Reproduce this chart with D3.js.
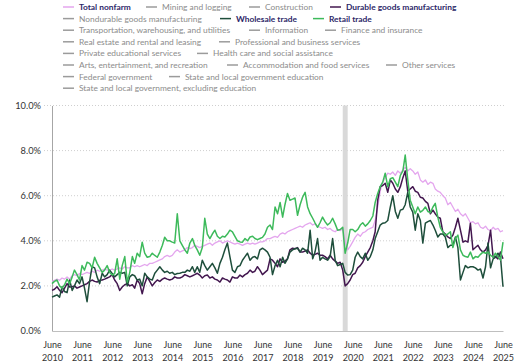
<!DOCTYPE html>
<html>
<head>
<meta charset="utf-8">
<script src="https://cdn.jsdelivr.net/npm/d3@7"></script>
<style>
  body { margin: 0; background: #fff; }
</style>
</head>
<body>
<script>
// Job openings rate by industry, monthly, June 2010 - June 2025 (percent)
const totalNonfarm = [
  2.2, 2.25, 2.3, 2.25, 2.35, 2.3, 2.4, 2.3, 2.45, 2.5, 2.45, 2.55,
  2.5, 2.55, 2.6, 2.55, 2.65, 2.6, 2.7, 2.65, 2.7, 2.75, 2.7, 2.7,
  2.75, 2.7, 2.75, 2.8, 2.75, 2.85, 2.8, 2.8, 2.9, 2.85, 2.9, 2.85,
  2.9, 2.95, 2.9, 3.0, 3.0, 3.05, 3.1, 3.15, 3.2, 3.3, 3.35, 3.3,
  3.35, 3.5, 3.6, 3.5, 3.55, 3.6, 3.7, 3.65, 3.7, 3.8, 3.75, 3.7,
  3.75, 3.8, 3.85, 3.9, 3.8, 3.9, 3.95, 4.0, 3.9, 3.95, 4.0, 3.95,
  3.9, 3.85, 3.9, 3.85, 3.8, 3.85, 3.9, 3.85, 3.9, 3.85, 3.9, 3.95,
  3.95, 4.0, 4.1, 4.1, 4.15, 4.2, 4.15, 4.3, 4.35, 4.3, 4.4, 4.45,
  4.5, 4.55, 4.6, 4.65, 4.6, 4.7, 4.75, 4.8, 4.7, 4.75, 4.65, 4.6,
  4.55, 4.6, 4.5, 4.55, 4.45, 4.4, 4.5, 4.45, 4.55, 4.0, 3.6, 3.75,
  3.95, 4.15, 4.3, 4.2, 4.35, 4.4, 4.5, 4.55, 4.6, 4.9, 5.5, 6.2,
  6.6, 6.8, 7.0, 6.95, 7.05, 6.9, 7.1, 7.0, 7.15, 7.25, 7.1, 7.2,
  7.1, 6.95, 7.05, 6.7, 6.6, 6.7, 6.5, 6.6, 6.55, 6.3, 6.2, 6.15,
  6.0, 5.9, 5.6, 5.7, 5.5, 5.3, 5.4, 5.2, 5.1, 5.2, 5.0, 4.8,
  4.85, 4.75, 4.8, 4.6, 4.55, 4.65, 4.5, 4.45, 4.6, 4.5, 4.55, 4.4,
  4.45
];

const durableGoods = [
  1.8, 1.85, 1.96, 1.8, 1.7, 1.9, 2.1, 1.95, 1.96, 2.0, 1.9, 1.95,
  2.0, 2.05, 2.1, 2.2, 2.26, 2.2, 2.17, 2.25, 2.26, 2.3, 2.35, 2.4,
  2.5, 2.26, 2.1, 1.8, 1.95, 2.05, 2.1, 2.0, 2.05, 1.9, 2.26, 2.1,
  1.65, 2.1, 2.4, 2.2, 2.0, 2.15, 2.26, 2.2, 2.3, 2.35, 2.3, 2.26,
  2.3, 2.4, 2.35, 2.35, 2.4, 2.5, 2.45, 2.4, 2.45, 2.5, 2.56, 2.48,
  2.35, 2.45, 2.48, 2.35, 2.4, 2.3, 2.26, 2.17, 2.35, 2.3, 2.26, 2.17,
  2.4, 2.35, 2.35, 2.48, 2.4, 2.5, 2.56, 2.7, 2.6, 2.65, 2.85, 2.7,
  2.5, 2.6, 2.7, 3.2, 3.14, 3.0, 2.85, 3.2, 3.05, 3.1, 3.2, 3.6,
  3.67, 3.65, 3.7, 3.5, 3.5, 3.55, 3.6, 3.45, 3.36, 3.4, 3.45, 3.36,
  3.36, 3.3, 3.2, 3.36, 3.2, 3.1, 3.0, 3.05, 2.7, 2.0, 2.1, 2.26,
  2.5, 2.56, 2.8, 2.9, 3.05, 3.3, 3.5, 3.7, 4.0, 4.4, 5.8, 6.4,
  6.45, 6.55, 6.15, 6.7, 6.55, 6.3, 6.15, 6.4, 6.8, 7.1, 6.2, 6.3,
  6.4, 6.2, 6.15, 5.93, 5.9, 5.75, 5.66, 5.2, 5.36, 5.2, 5.05, 5.0,
  4.4, 4.3, 4.17, 4.1, 4.25, 4.6, 5.0, 4.47, 3.94, 4.0, 3.94, 4.78,
  3.6, 3.7, 3.8, 3.6, 3.5, 3.6, 3.8, 4.47, 3.27, 3.3, 3.2, 3.5,
  3.2
];

const wholesaleTrade = [
  1.5, 1.55, 1.6, 1.5, 1.96, 1.75, 1.7, 2.26, 1.8, 2.0, 2.26, 2.1,
  2.4, 1.9, 1.3, 2.2, 2.85, 2.8, 2.4, 2.1, 2.56, 2.4, 2.5, 2.7,
  2.55, 2.4, 2.5, 2.6, 2.56, 2.6, 2.0, 2.4, 2.5, 2.45, 2.26, 2.3,
  2.0, 2.56, 2.4, 2.3, 2.26, 2.56, 2.7, 2.85, 2.7, 2.6, 2.65, 2.56,
  2.6, 2.5, 2.55, 2.56, 2.6, 2.6, 2.7, 2.65, 2.85, 2.6, 2.85, 2.6,
  3.14, 2.9, 2.7, 2.85, 3.0, 2.8, 2.56, 3.0, 3.27, 3.6, 3.9, 3.3,
  2.7, 2.6, 2.85, 2.9, 3.14, 3.3, 3.45, 3.14, 3.27, 3.3, 3.2, 3.6,
  3.67, 3.6, 3.5, 3.27, 2.5, 2.9, 3.14, 2.85, 3.27, 3.0, 3.2, 3.5,
  3.6, 3.65, 3.67, 3.5, 3.67, 3.6, 3.45, 4.47, 3.2, 3.5, 4.1, 3.14,
  3.27, 3.2, 3.14, 3.3, 4.1, 3.14, 2.9, 2.95, 3.0, 2.6, 2.48, 2.5,
  2.7, 3.27, 3.5, 3.3, 3.2, 3.45, 3.14, 3.3, 3.6, 4.1, 4.4, 4.7,
  4.78, 4.8, 4.9, 5.5, 6.0, 5.3, 5.0, 5.36, 5.4, 5.6, 6.15, 5.5,
  5.27, 4.47, 5.2, 4.9, 3.9, 4.78, 4.85, 4.9, 4.7, 4.47, 4.17, 4.3,
  4.3, 4.17, 3.7, 3.8, 3.8, 4.17, 3.7, 2.26, 2.6, 2.9, 2.8, 2.85,
  2.85, 2.8, 2.7, 2.75, 2.35, 2.85, 3.9, 2.8, 3.2, 3.27, 3.45, 3.3,
  1.96
];

const retailTrade = [
  2.1, 2.2, 2.26, 2.0, 1.9, 2.05, 2.3, 2.1, 2.4, 2.7, 2.5, 2.26,
  2.9, 2.7, 3.05, 3.0, 2.8, 3.27, 3.0, 2.8, 2.6, 2.7, 2.9, 2.6,
  2.48, 2.55, 3.2, 2.3, 2.9, 3.3, 2.17, 2.6, 3.3, 3.0, 3.45, 3.3,
  3.94, 3.45, 3.27, 3.3, 3.45, 3.35, 3.27, 3.5, 3.8, 4.16, 4.0, 4.0,
  3.94, 3.9, 5.2, 4.0, 3.8, 3.6, 3.45, 3.9, 4.1, 3.8, 3.6, 3.36,
  3.7, 5.0, 4.3, 4.1, 4.3, 4.47, 4.2, 4.1, 4.2, 4.17, 4.3, 4.47,
  4.4, 4.2, 4.0, 3.95, 3.94, 4.1, 4.0, 4.17, 4.2, 4.1, 4.05, 4.1,
  4.15, 4.3, 4.6, 4.7, 4.5, 5.5, 5.2, 5.7, 5.05, 5.6, 6.1, 5.8,
  5.85, 5.9, 5.13, 5.6, 5.93, 6.15, 5.5, 5.2, 5.0, 4.8, 4.6, 4.8,
  5.05, 4.85, 4.7, 4.8, 5.0, 4.75, 4.47, 4.5, 4.6, 3.45, 3.9, 4.5,
  4.5, 4.4, 4.5, 4.7, 4.8, 4.65, 4.75, 4.9, 5.1, 5.7, 6.1, 6.4,
  6.6, 7.0, 6.4, 6.75, 6.8, 6.6, 6.4, 6.9, 7.1, 7.8, 6.7, 5.8,
  5.5, 5.2, 5.5, 5.27, 5.35, 5.5, 5.3, 5.25, 5.5, 5.66, 5.05, 4.6,
  4.4, 4.25, 4.3, 4.4, 3.7, 4.1, 4.25, 3.6, 3.36, 3.3, 3.27, 3.5,
  3.2, 3.3, 3.27, 3.4, 3.5, 3.45, 3.5, 3.36, 3.27, 3.45, 3.3, 3.14,
  3.94
];

const tickYears = [2010, 2011, 2012, 2013, 2014, 2015, 2016, 2017, 2018, 2019, 2020, 2021, 2022, 2023, 2024, 2025];
const yTicks = [0, 2, 4, 6, 8, 10];
const recession = [new Date(2020, 1, 1), new Date(2020, 3, 1)];

const legendRows = [
  ["Total nonfarm", "Mining and logging", "Construction", "Durable goods manufacturing"],
  ["Nondurable goods manufacturing", "Wholesale trade", "Retail trade"],
  ["Transportation, warehousing, and utilities", "Information", "Finance and insurance"],
  ["Real estate and rental and leasing", "Professional and business services"],
  ["Private educational services", "Health care and social assistance"],
  ["Arts, entertainment, and recreation", "Accommodation and food services", "Other services"],
  ["Federal government", "State and local government education"],
  ["State and local government, excluding education"]
];

// legend text start positions, row by row (layout only)
const legendX = [
  [79, 162, 265, 346],
  [79, 236, 329],
  [79, 265, 341],
  [79, 235],
  [79, 213],
  [79, 243, 402],
  [79, 185],
  [79]
];

const series = [
  { name: "Total nonfarm", values: totalNonfarm, color: "#e4a6ee", width: 1.3 },
  { name: "Durable goods manufacturing", values: durableGoods, color: "#43174f", width: 1.5 },
  { name: "Wholesale trade", values: wholesaleTrade, color: "#1e4e3b", width: 1.5 },
  { name: "Retail trade", values: retailTrade, color: "#3dba5b", width: 1.5 }
];

const width = 524, height = 362;
const marginLeft = 52, marginRight = 21, marginTop = 105.5, marginBottom = 31;
const font = "Lato, 'DejaVu Sans', sans-serif";

const start = new Date(2010, 5, 1);
const dates = totalNonfarm.map((d, i) => d3.timeMonth.offset(start, i));

const svg = d3.select("body").append("svg")
  .attr("width", width)
  .attr("height", height)
  .attr("viewBox", [0, 0, width, height])
  .style("font-family", font);

const x = d3.scaleTime()
  .domain([start, new Date(2025, 5, 1)])
  .range([marginLeft, width - marginRight]);

const y = d3.scaleLinear()
  .domain([0, 10])
  .range([height - marginBottom, marginTop]);

// dotted gridlines
svg.append("g")
  .selectAll("line")
  .data(yTicks.filter(d => d > 0))
  .join("line")
  .attr("x1", marginLeft - 8)
  .attr("x2", width - marginRight + 1)
  .attr("y1", d => y(d))
  .attr("y2", d => y(d))
  .attr("stroke", "#cfcfcf")
  .attr("stroke-width", 1)
  .attr("stroke-dasharray", "1,2");

// recession shading
svg.append("rect")
  .attr("x", x(recession[0]))
  .attr("width", x(recession[1]) - x(recession[0]))
  .attr("y", y(10))
  .attr("height", y(0) - y(10))
  .attr("fill", "#d9d9d9");

// y axis
svg.append("g")
  .attr("transform", `translate(${marginLeft},0)`)
  .call(d3.axisLeft(y).tickValues(yTicks).tickFormat(d => d.toFixed(1) + "%").tickSize(0).tickPadding(11))
  .call(g => g.select(".domain").attr("stroke", "#a6a6a6"))
  .call(g => g.selectAll("text")
    .attr("font-family", font)
    .attr("font-size", 9.3)
    .attr("fill", "#333"));

// x axis
const xAxis = svg.append("g")
  .attr("transform", `translate(0,${height - marginBottom})`)
  .call(d3.axisBottom(x).tickValues(tickYears.map(yr => new Date(yr, 5, 1))).tickSize(0).tickFormat(""))
  .call(g => g.select(".domain").attr("stroke", "#bfbfbf"));

xAxis.selectAll(".tick").each(function(d, i) {
  const t = d3.select(this).append("text")
    .attr("fill", "#333")
    .attr("font-family", font)
    .attr("font-size", 9)
    .attr("text-anchor", "middle");
  t.append("tspan").attr("x", 0).attr("y", 16.5).text("June");
  t.append("tspan").attr("x", 0).attr("y", 30).text(tickYears[i]);
});

// lines
const line = d3.line()
  .x((d, i) => x(dates[i]))
  .y(d => y(d));

svg.append("g")
  .selectAll("path")
  .data(series)
  .join("path")
  .attr("fill", "none")
  .attr("stroke", d => d.color)
  .attr("stroke-width", d => d.width)
  .attr("stroke-linejoin", "round")
  .attr("d", d => line(d.values));

// legend
const highlight = new Map(series.map(s => [s.name, s.color]));
const legend = svg.append("g").attr("font-family", font).attr("font-size", 8.4);

legendRows.forEach((row, r) => {
  const ly = 7 + r * 11.6;
  row.forEach((name, k) => {
    const tx = legendX[r][k];
    const on = highlight.has(name);
    legend.append("line")
      .attr("x1", tx - 16)
      .attr("x2", tx - 5)
      .attr("y1", ly)
      .attr("y2", ly)
      .attr("stroke", on ? highlight.get(name) : "#9b9b9b")
      .attr("stroke-width", 1.5);
    legend.append("text")
      .attr("x", tx)
      .attr("y", ly)
      .attr("dy", "0.35em")
      .attr("fill", on ? "#2c2768" : "#8c8c8c")
      .attr("font-weight", on ? "bold" : "normal")
      .text(name);
  });
});
</script>
</body>
</html>
